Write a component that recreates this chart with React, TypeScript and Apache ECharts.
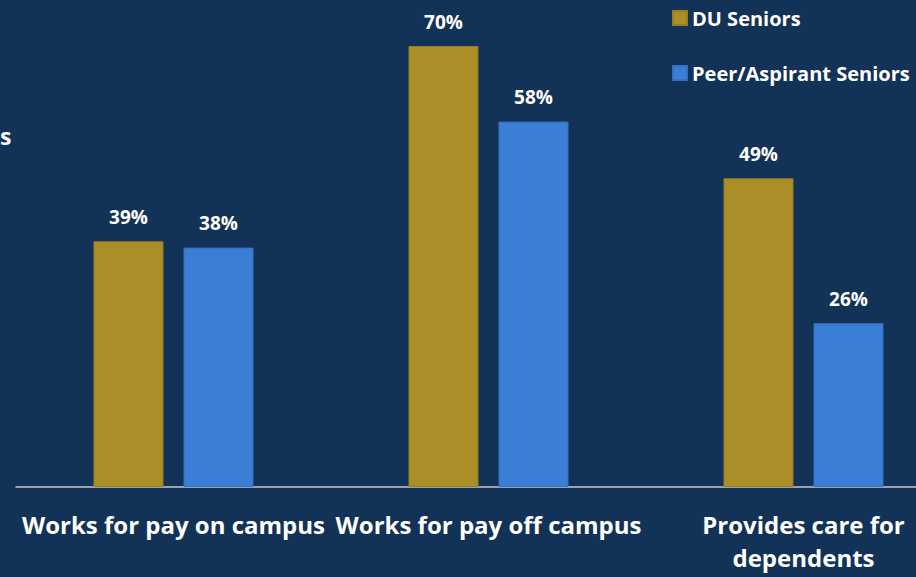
import React, { useEffect, useRef } from "react";
import * as echarts from "echarts";

const categories = ["Works for pay on campus", "Works for pay off campus", "Provides care for\ndependents"];
const duSeniors = [39, 70, 49];
const peerSeniors = [38, 58, 26];
const seriesNames = ["DU Seniors", "Peer/Aspirant Seniors"];

const FONT = "'Open Sans', Lato, sans-serif";

export default function App() {
  const ref = useRef<HTMLDivElement>(null);
  useEffect(() => {
    if (!ref.current) return;
    const chart = echarts.init(ref.current, undefined, { renderer: "svg" });
    const label = {
      show: true,
      position: "top" as const,
      distance: 15,
      color: "#ffffff",
      fontFamily: FONT,
      fontWeight: "bold" as const,
      fontSize: 19,
      formatter: "{c}%",
    };
    chart.setOption({
      animation: false,
      backgroundColor: "#133257",
      textStyle: { fontFamily: FONT },
      legend: {
        orient: "vertical",
        left: 667,
        top: 3,
        itemWidth: 14,
        itemHeight: 14,
        itemGap: 35,
        icon: "rect",
        textStyle: { color: "#ffffff", fontFamily: FONT, fontWeight: "bold", fontSize: 20 },
        data: seriesNames,
      },
      graphic: [
        {
          type: "text",
          left: 0,
          top: 124,
          style: { text: "s", fill: "#ffffff", fontFamily: FONT, fontWeight: "bold", fontSize: 23 },
        },
      ],
      grid: {
        left: 16,
        width: 945,
        top: 46,
        bottom: 90,
        containLabel: false,
        outerBoundsMode: "none",
      },
      xAxis: {
        type: "category",
        data: categories,
        axisLine: { show: true, lineStyle: { color: "#c8c8c8", width: 1.5 } },
        axisTick: { show: false },
        axisLabel: {
          color: "#ffffff",
          fontFamily: FONT,
          fontWeight: "bold",
          fontSize: 24,
          lineHeight: 33,
          margin: 21,
          interval: 0,
          hideOverlap: false,
        },
      },
      yAxis: {
        type: "value",
        min: 0,
        max: 70,
        show: false,
        splitLine: { show: false },
      },
      series: [
        {
          name: seriesNames[0],
          type: "bar",
          data: duSeniors,
          barWidth: 70,
          barGap: "28.6%",
          itemStyle: { color: "#ab8e27", borderColor: "#97801f", borderWidth: 1 },
          label,
        },
        {
          name: seriesNames[1],
          type: "bar",
          data: peerSeniors,
          barWidth: 70,
          barGap: "28.6%",
          itemStyle: { color: "#3a7fd5", borderColor: "#3471bd", borderWidth: 1 },
          label,
        },
      ],
    });
    return () => chart.dispose();
  }, []);
  return <div ref={ref} style={{ position: "fixed", left: 0, top: 0, width: 916, height: 577 }} />;
}
